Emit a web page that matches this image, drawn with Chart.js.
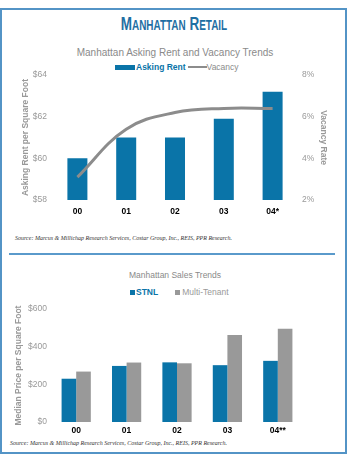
<!DOCTYPE html>
<html lang="en">
  <head>
    <meta charset="UTF-8" />
    <title>Manhattan Retail</title>
    <script src="https://cdn.jsdelivr.net/npm/chart.js"></script>
    <style>
      body {
        margin: 0;
        width: 353px;
        height: 455px;
        background: #fff;
        font-family: "Liberation Sans", Arial, sans-serif;
        position: relative;
        overflow: hidden;
      }
      .frame {
        position: absolute;
        left: 0;
        top: 8px;
        width: 343px;
        height: 442px;
        border: 2px solid #5394c6;
      }
      .abs {
        position: absolute;
        white-space: nowrap;
      }
      .main-title {
        left: 0;
        width: 348px;
        top: 13px;
        text-align: center;
      }
      .main-title span {
        display: inline-block;
        transform: scaleX(0.71);
        font-weight: bold;
        color: #1f6fa3;
        font-size: 19px;
      }
      .main-title small {
        font-size: 14px;
      }
      .chart-title {
        left: 0;
        width: 350px;
        text-align: center;
        color: #8a8a8a;
      }
      .source {
        font-family: "Liberation Serif", serif;
        font-style: italic;
        font-size: 6px;
        color: #333;
      }
      .divider {
        position: absolute;
        left: 9px;
        top: 253px;
        width: 326px;
        height: 2px;
        background: #5a9acb;
      }
      .legend {
        font-size: 8.5px;
        display: flex;
        align-items: center;
      }
      .swatch {
        display: inline-block;
      }
      canvas {
        position: absolute;
        left: 0;
      }
    </style>
  </head>
  <body>
    <div class="frame"></div>
    <div class="abs main-title"><span>M<small>ANHATTAN</small> R<small>ETAIL</small></span></div>

    <div class="abs chart-title" style="top: 47px; font-size: 10px">
      Manhattan Asking Rent and Vacancy Trends
    </div>
    <div class="abs legend" style="left: 115px; top: 62px">
      <span class="swatch" style="width: 20px; height: 5px; background: #0a74a8"></span>
      <span style="color: #0a74a8; font-weight: bold; margin-left: 1px">Asking Rent</span>
      <span class="swatch" style="width: 19px; height: 2px; background: #8c8c8c; margin-left: 2px"></span>
      <span style="color: #8c8c8c">Vacancy</span>
    </div>
    <div style="position: absolute; top: 64px; width: 353px; height: 158px">
      <canvas id="rentChart"></canvas>
    </div>
    <div class="abs source" style="left: 15px; top: 235px">
      Source: Marcus &amp; Millichap Research Services, Costar Group, Inc., REIS, PPR Research.
    </div>

    <div class="divider"></div>

    <div class="abs chart-title" style="top: 270px; font-size: 8.5px">
      Manhattan Sales Trends
    </div>
    <div class="abs legend" style="left: 130px; top: 287px">
      <span class="swatch" style="width: 5px; height: 5px; background: #0a74a8"></span>
      <span style="color: #0a74a8; font-weight: bold; margin-left: 1px">STNL</span>
      <span class="swatch" style="width: 5px; height: 5px; background: #999; margin-left: 17px"></span>
      <span style="color: #999; margin-left: 2px">Multi-Tenant</span>
    </div>
    <div style="position: absolute; top: 300px; width: 353px; height: 140px">
      <canvas id="salesChart"></canvas>
    </div>
    <div class="abs source" style="left: 10px; top: 440px">
      Source: Marcus &amp; Millichap Research Services, Costar Group, Inc., REIS, PPR Research.
    </div>

    <script>
      // chart 1 data
      const rentYears = ["00", "01", "02", "03", "04*"];
      const askingRent = [60.0, 61.0, 61.0, 61.9, 63.2];
      const vacancy = [3.1, 5.4, 6.2, 6.4, 6.4];
      const rentTicks = [58, 60, 62, 64];
      const vacancyTicks = [2, 4, 6, 8];

      // chart 2 data
      const salesYears = ["00", "01", "02", "03", "04**"];
      const stnl = [230, 298, 317, 302, 325];
      const multiTenant = [268, 316, 312, 463, 495];
      const priceTicks = [0, 200, 400, 600];

      const BLUE = "#0a74a8";
      const GRAY = "#8c8c8c";
      const tickFont = { family: "Liberation Sans", size: 8.5 };
      const catFont = { family: "Liberation Sans", size: 8.5, weight: "bold" };
      const titleFont = { family: "Liberation Sans", size: 8.5, weight: "bold" };
      const noGrid = { display: false, drawTicks: false };

      function fixedWidth(w) {
        return (scale) => {
          scale.width = w;
        };
      }
      function fixedHeight(h) {
        return (scale) => {
          scale.height = h;
        };
      }
      function useTicks(list) {
        return (scale) => {
          scale.ticks = list.map((v) => ({ value: v }));
        };
      }

      new Chart(document.getElementById("rentChart"), {
        data: {
          labels: rentYears,
          datasets: [
            {
              type: "line",
              label: "Vacancy",
              data: vacancy,
              yAxisID: "yRight",
              borderColor: GRAY,
              borderWidth: 3,
              pointRadius: 0,
              tension: 0.4,
              fill: false,
            },
            {
              type: "bar",
              label: "Asking Rent",
              data: askingRent,
              yAxisID: "y",
              backgroundColor: BLUE,
              categoryPercentage: 0.41,
              barPercentage: 1,
            },
          ],
        },
        options: {
          responsive: true,
          maintainAspectRatio: false,
          animation: false,
          layout: { padding: { top: 10, bottom: 0, left: 0, right: 0 } },
          plugins: { legend: { display: false }, tooltip: { enabled: false } },
          scales: {
            x: {
              grid: noGrid,
              border: { display: false },
              ticks: { color: "#000", font: catFont, padding: 7 },
              afterFit: fixedHeight(22),
            },
            y: {
              position: "left",
              min: 58,
              max: 64,
              grid: noGrid,
              border: { display: false },
              afterBuildTicks: useTicks(rentTicks),
              ticks: {
                color: "#999",
                font: tickFont,
                padding: 6,
                callback: (v) => "$" + v,
              },
              title: {
                display: true,
                text: "Asking Rent per Square Foot",
                color: "#999",
                font: titleFont,
                padding: { top: 21, bottom: 0 },
              },
              afterFit: fixedWidth(53),
            },
            yRight: {
              position: "right",
              min: 2,
              max: 8,
              grid: noGrid,
              border: { display: false },
              afterBuildTicks: useTicks(vacancyTicks),
              ticks: {
                color: "#999",
                font: tickFont,
                padding: 5,
                callback: (v) => v + "%",
              },
              title: {
                display: true,
                text: "Vacancy Rate",
                color: "#999",
                font: titleFont,
                padding: { top: 25, bottom: 0 },
              },
              afterFit: fixedWidth(56),
            },
          },
        },
      });

      new Chart(document.getElementById("salesChart"), {
        type: "bar",
        data: {
          labels: salesYears,
          datasets: [
            {
              label: "STNL",
              data: stnl,
              backgroundColor: BLUE,
              categoryPercentage: 0.58,
              barPercentage: 1,
            },
            {
              label: "Multi-Tenant",
              data: multiTenant,
              backgroundColor: "#999",
              categoryPercentage: 0.58,
              barPercentage: 1,
            },
          ],
        },
        options: {
          responsive: true,
          maintainAspectRatio: false,
          animation: false,
          layout: { padding: { top: 8, bottom: 0, left: 0, right: 50 } },
          plugins: { legend: { display: false }, tooltip: { enabled: false } },
          scales: {
            x: {
              grid: noGrid,
              border: { display: false },
              ticks: { color: "#000", font: catFont, padding: 4 },
              afterFit: fixedHeight(18),
            },
            y: {
              min: 0,
              max: 600,
              grid: noGrid,
              border: { display: false },
              afterBuildTicks: useTicks(priceTicks),
              ticks: {
                color: "#999",
                font: tickFont,
                padding: 4,
                callback: (v) => "$" + v,
              },
              title: {
                display: true,
                text: "Median Price per Square Foot",
                color: "#999",
                font: titleFont,
                padding: { top: 14, bottom: 0 },
              },
              afterFit: fixedWidth(51),
            },
          },
        },
      });
    </script>
  </body>
</html>
